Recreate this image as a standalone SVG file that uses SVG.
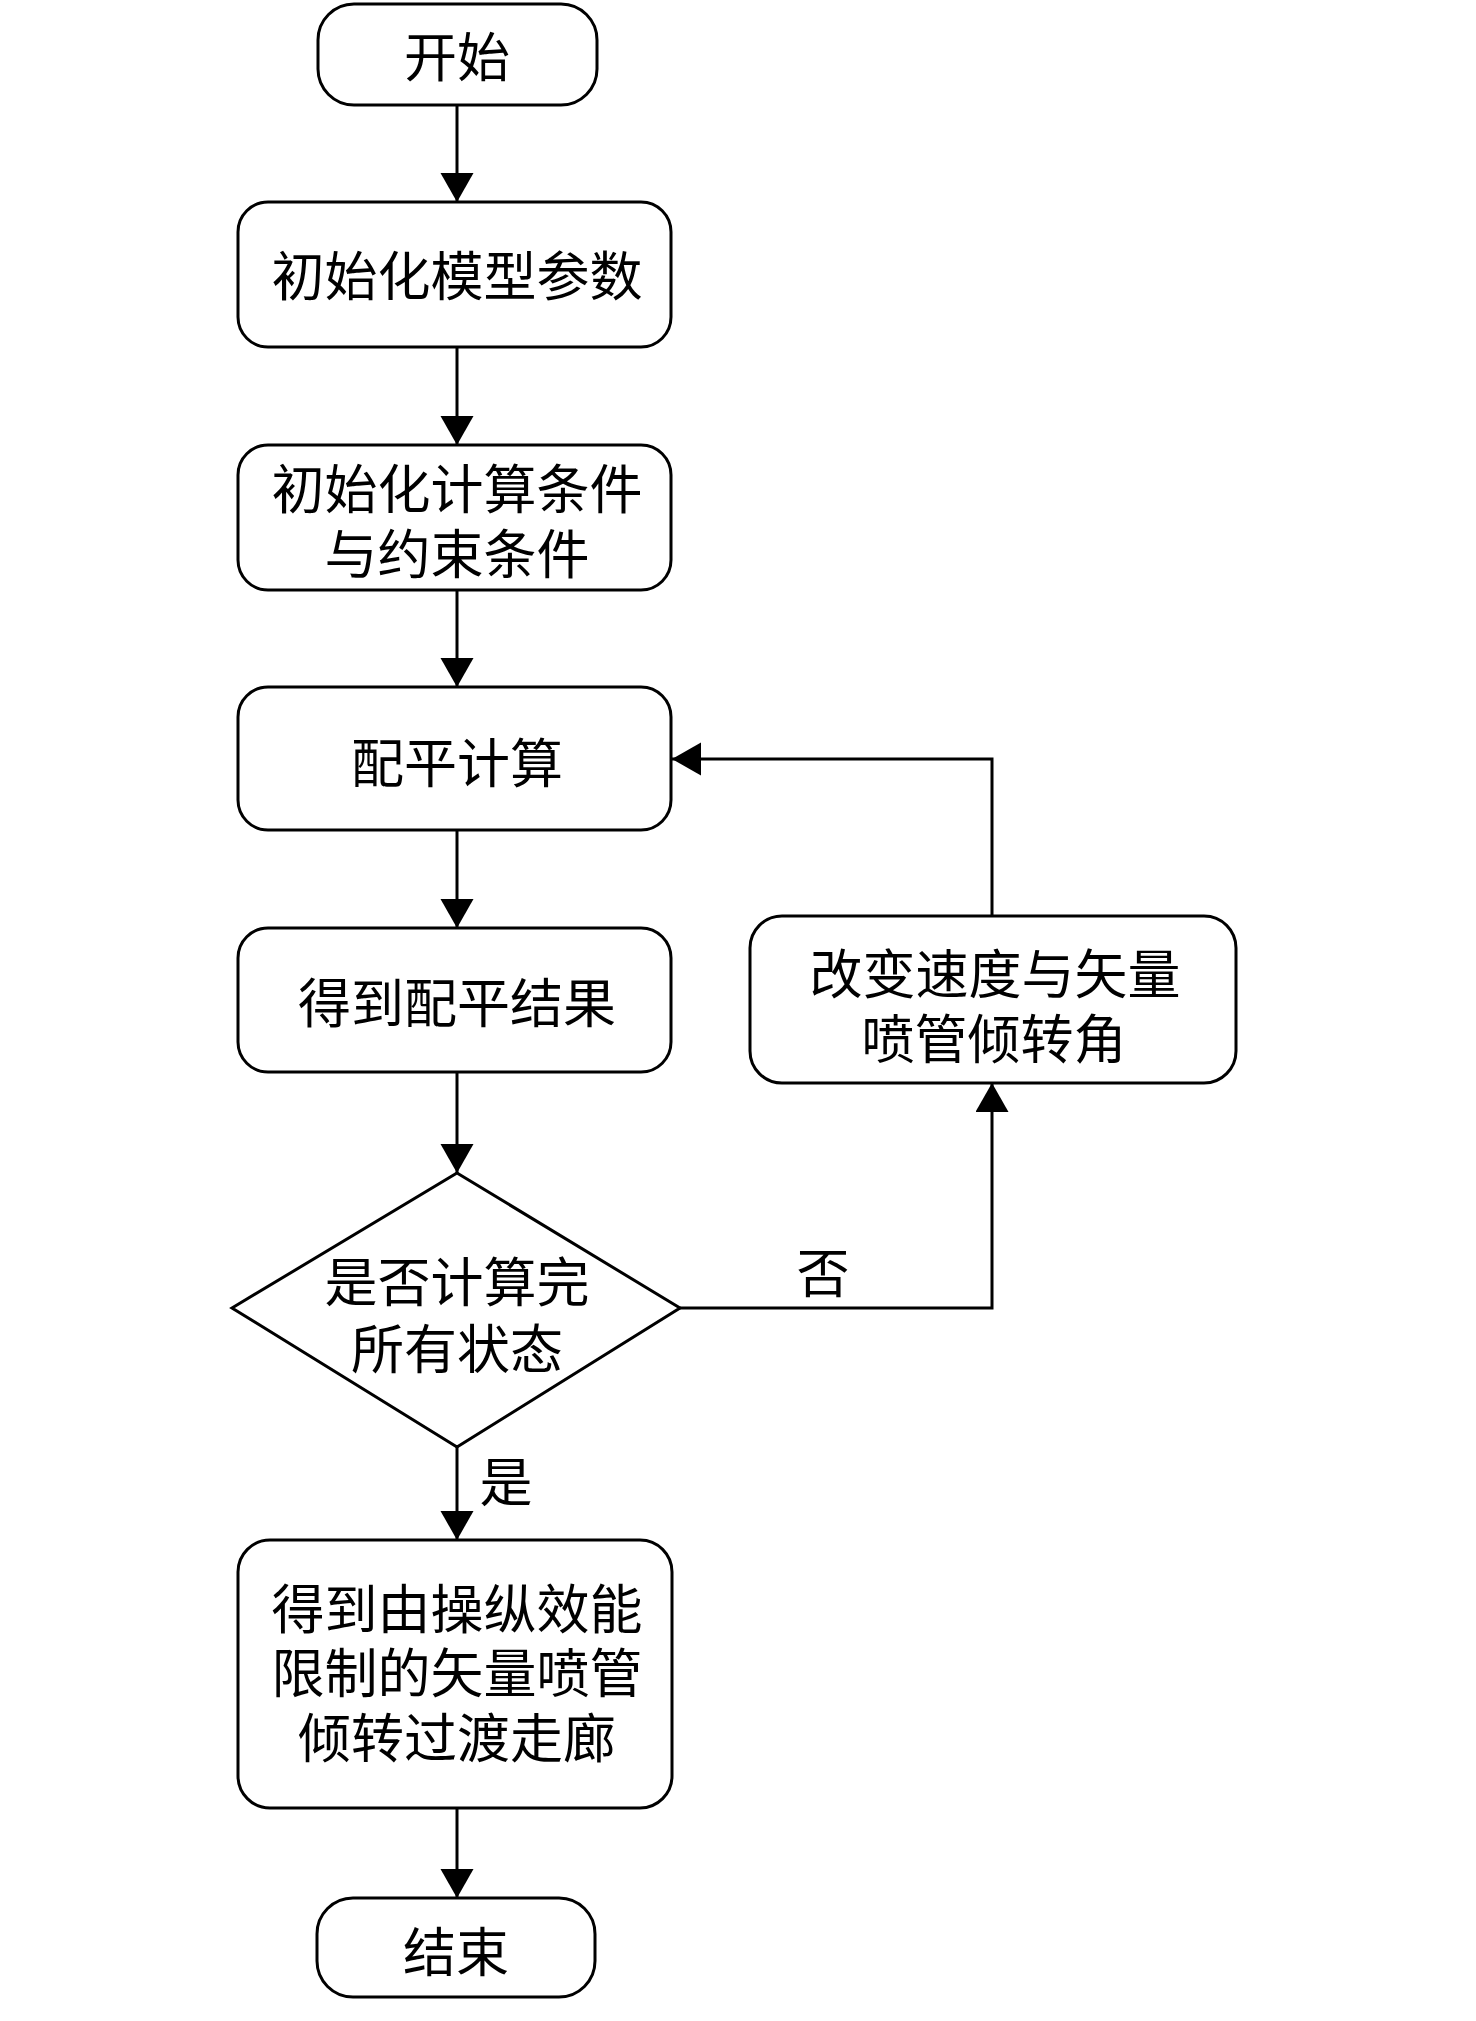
<svg xmlns="http://www.w3.org/2000/svg" width="1476" height="2021" viewBox="0 0 1476 2021">
<style>
.box{fill:#fff;stroke:#000;stroke-width:3}
.t{font-family:"Noto Sans CJK SC","Noto Sans CJK JP",sans-serif;font-size:53px;fill:#000;text-anchor:middle;dominant-baseline:central}
.c{fill:none;stroke:#000;stroke-width:3}
</style>
<defs>
<marker id="ah" markerUnits="userSpaceOnUse" markerWidth="30" markerHeight="34" refX="29" refY="16.5" orient="auto" viewBox="0 0 30 34">
<path d="M0,0 L29,16.5 L0,33 z" fill="#000"/>
</marker>
</defs>
<rect width="1476" height="2021" fill="#fff"/>
<g id="connectors">
<line class="c" x1="457" y1="106" x2="457" y2="202" marker-end="url(#ah)"/>
<line class="c" x1="457" y1="347" x2="457" y2="445" marker-end="url(#ah)"/>
<line class="c" x1="457" y1="590" x2="457" y2="687" marker-end="url(#ah)"/>
<line class="c" x1="457" y1="830" x2="457" y2="928" marker-end="url(#ah)"/>
<line class="c" x1="457" y1="1072" x2="457" y2="1173" marker-end="url(#ah)"/>
<line class="c" x1="457" y1="1447" x2="457" y2="1540" marker-end="url(#ah)"/>
<line class="c" x1="457" y1="1808" x2="457" y2="1898" marker-end="url(#ah)"/>
<polyline class="c" points="680,1308 992,1308 992,1083" marker-end="url(#ah)"/>
<polyline class="c" points="992,916 992,759 672,759" marker-end="url(#ah)"/>
<text class="t" x="823" y="1270">否</text>
<text class="t" x="506" y="1479">是</text>
</g>
<g id="start">
<rect class="box" x="318" y="4" width="279" height="101" rx="36"/>
<text class="t" x="457" y="54">开始</text>
</g>
<g id="init-model">
<rect class="box" x="238" y="202" width="433" height="145" rx="30"/>
<text class="t" x="457" y="273">初始化模型参数</text>
</g>
<g id="init-cond">
<rect class="box" x="238" y="445" width="433" height="145" rx="30"/>
<text class="t" x="457" y="486">初始化计算条件</text>
<text class="t" x="457" y="551">与约束条件</text>
</g>
<g id="trim-calc">
<rect class="box" x="238" y="687" width="433" height="143" rx="30"/>
<text class="t" x="457" y="760">配平计算</text>
</g>
<g id="trim-result">
<rect class="box" x="238" y="928" width="433" height="144" rx="30"/>
<text class="t" x="457" y="1000">得到配平结果</text>
</g>
<g id="change">
<rect class="box" x="750" y="916" width="486" height="167" rx="32"/>
<text class="t" x="995" y="971">改变速度与矢量</text>
<text class="t" x="994" y="1036">喷管倾转角</text>
</g>
<g id="decision">
<polygon class="box" points="457,1173 680,1308 457,1447 232,1308"/>
<text class="t" x="457" y="1279">是否计算完</text>
<text class="t" x="457" y="1346">所有状态</text>
</g>
<g id="corridor">
<rect class="box" x="238" y="1540" width="434" height="268" rx="32"/>
<text class="t" x="457" y="1606">得到由操纵效能</text>
<text class="t" x="457" y="1670">限制的矢量喷管</text>
<text class="t" x="457" y="1735">倾转过渡走廊</text>
</g>
<g id="end">
<rect class="box" x="317" y="1898" width="278" height="99" rx="36"/>
<text class="t" x="456" y="1949">结束</text>
</g>
</svg>
